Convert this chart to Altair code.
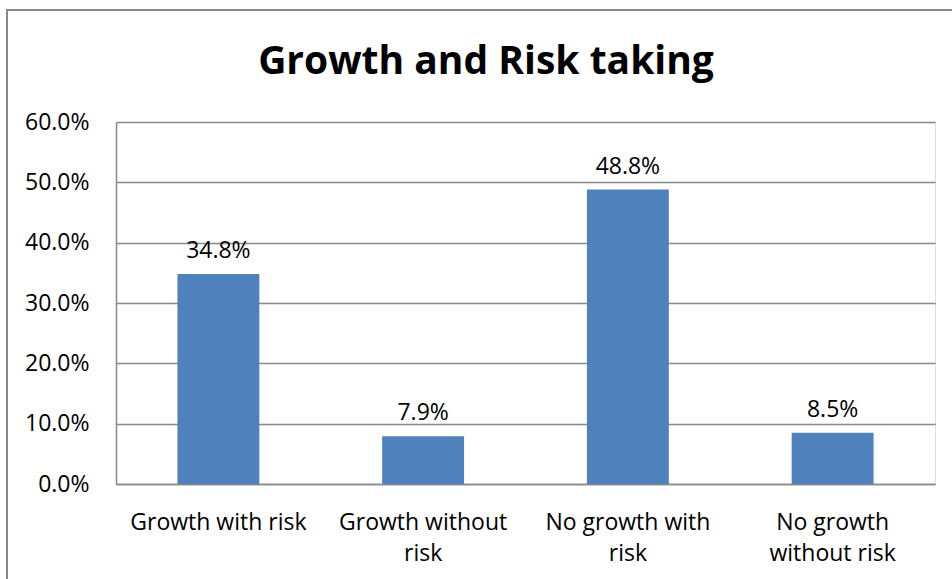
import altair as alt
import pandas as pd

title_text = "Growth and Risk taking"
categories = ["Growth with risk", "Growth without risk", "No growth with risk", "No growth without risk"]
values = [0.348, 0.079, 0.488, 0.085]
label_lines = [["Growth with risk"], ["Growth without", "risk"], ["No growth with", "risk"], ["No growth", "without risk"]]

df = pd.DataFrame({"category": categories, "value": values})

expr = "datum.label"
for cat, lines in reversed(list(zip(categories, label_lines))):
    arr = "[" + ",".join("'" + l + "'" for l in lines) + "]"
    expr = f"datum.label == '{cat}' ? {arr} : ({expr})"

FONT = "Open Sans"
GRAY = "#898989"
FS = 23

x = alt.X("category:N", sort=categories, title=None,
          scale=alt.Scale(paddingInner=0.6, paddingOuter=0.3),
          axis=alt.Axis(labelAngle=0, labelExpr=expr, labelFontSize=FS, labelFont=FONT,
                        labelColor="#000000", labelPadding=27, labelLineHeight=31,
                        ticks=False, domainColor=GRAY, domainWidth=1.5, labelBaseline="top"))
y = alt.Y("value:Q", title=None,
          scale=alt.Scale(domain=[0, 0.6], nice=False),
          axis=alt.Axis(format=".1%", values=[0, 0.1, 0.2, 0.3, 0.4, 0.5, 0.6],
                        labelFontSize=FS, labelFont=FONT, labelColor="#000000",
                        labelPadding=27, ticks=False, domainColor=GRAY, domainWidth=1.5,
                        gridColor=GRAY, gridWidth=1.5))

base = alt.Chart(df)
bars = base.mark_bar(color="#4F81BD").encode(x=x, y=y)
text = base.mark_text(baseline="alphabetic", dy=-16, fontSize=FS, font=FONT, color="#000000").encode(
    x=alt.X("category:N", sort=categories), y="value:Q", text=alt.Text("value:Q", format=".1%"))

title = alt.Chart(pd.DataFrame({"t": [title_text]})).mark_text(
    font=FONT, fontSize=39, fontWeight="bold", color="#000000", baseline="alphabetic", align="center"
).encode(text="t:N", x=alt.value(370), y=alt.value(-48))

frame_left = alt.Chart(df).mark_rule(color=GRAY, strokeWidth=2).encode(
    x=alt.value(-109), y=alt.value(-112), y2=alt.value(470))
frame_top = alt.Chart(df).mark_rule(color=GRAY, strokeWidth=2).encode(
    x=alt.value(-110), x2=alt.value(840), y=alt.value(-112))

chart = alt.layer(bars, text, title, frame_left, frame_top).properties(
    width=819, height=362,
    autosize=alt.AutoSizeParams(type="none"),
    padding={"left": 116, "top": 122, "right": 17, "bottom": 95},
).configure_view(stroke=None).configure(background="white")

chart.save("out.html", embed_options={"renderer": "svg", "actions": False})
